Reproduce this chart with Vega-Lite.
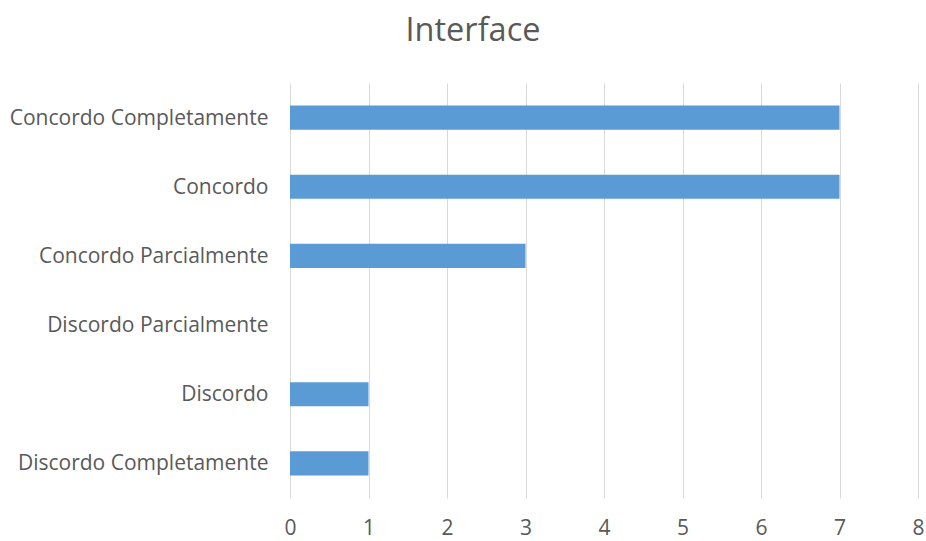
{
  "$schema": "https://vega.github.io/schema/vega-lite/v6.json",
  "autosize": "none",
  "width": 628,
  "height": 415,
  "padding": {"left": 290, "top": 83, "right": 8, "bottom": 43},
  "background": "white",
  "title": {
    "text": "Interface",
    "anchor": "middle",
    "frame": "group",
    "dx": -131,
    "offset": 36,
    "fontSize": 32.5,
    "font": "Open Sans",
    "fontWeight": "normal",
    "color": "#595959"
  },
  "data": {
    "values": [
      {"resposta": "Concordo Completamente", "n": 7},
      {"resposta": "Concordo", "n": 7},
      {"resposta": "Concordo Parcialmente", "n": 3},
      {"resposta": "Discordo Parcialmente", "n": 0},
      {"resposta": "Discordo", "n": 1},
      {"resposta": "Discordo Completamente", "n": 1}
    ]
  },
  "mark": {"type": "bar", "color": "#5B9BD5"},
  "encoding": {
    "y": {
      "field": "resposta",
      "type": "nominal",
      "sort": null,
      "scale": {"paddingInner": 0.65, "paddingOuter": 0.325},
      "axis": {
        "title": null,
        "domain": false,
        "ticks": false,
        "labelPadding": 22,
        "labelFont": "Open Sans",
        "labelFontSize": 21,
        "labelColor": "#595959",
        "labelLimit": 400,
        "labelOffset": 1
      }
    },
    "x": {
      "field": "n",
      "type": "quantitative",
      "scale": {"domain": [0, 8], "nice": false},
      "axis": {
        "title": null,
        "domain": false,
        "ticks": false,
        "values": [0, 1, 2, 3, 4, 5, 6, 7, 8],
        "labelOverlap": false,
        "labelFlush": false,
        "grid": true,
        "gridColor": "#d9d9d9",
        "labelPadding": 19,
        "labelFont": "Open Sans",
        "labelFontSize": 21,
        "labelColor": "#595959"
      }
    }
  },
  "config": {"view": {"stroke": null}}
}
